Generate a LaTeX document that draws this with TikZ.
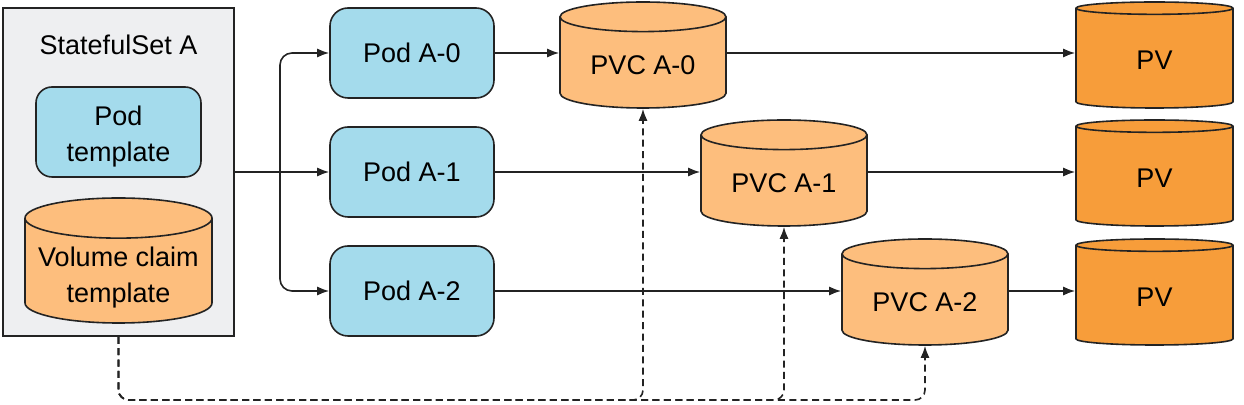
\documentclass[tikz,border=0pt]{standalone}
\usepackage{fontspec}
\setmainfont{Liberation Sans}
\usepackage{tikz}
\usetikzlibrary{shapes.geometric}
\usetikzlibrary{arrows.meta}
\definecolor{edge}{RGB}{35,35,35}
\definecolor{setgray}{RGB}{238,239,241}
\definecolor{podblue}{RGB}{164,219,236}
\definecolor{claimorange}{RGB}{253,190,125}
\definecolor{volorange}{RGB}{247,157,58}
\begin{document}
\begin{tikzpicture}[x=0.5pt, y=-0.5pt, font=\fontsize{13.5}{18}\selectfont,
    set/.style={draw=edge, fill=setgray, line width=0.8pt, minimum width=115.5pt, minimum height=164pt},
    pod/.style={draw=edge, fill=podblue, line width=0.8pt, rounded corners=9pt, minimum width=82pt, minimum height=45pt, align=center},
    drum/.style={draw=edge, line width=0.8pt, cylinder, shape border rotate=90, aspect=0.25, align=center, anchor=shape center},
    claim/.style={drum, fill=claimorange, minimum width=83pt, minimum height=53pt},
    volume/.style={drum, fill=volorange, minimum width=78.5pt, minimum height=53pt},
    link/.style={-{Latex[length=6pt,width=4.5pt]}, line width=0.8pt, draw=edge},
    bind/.style={link, dash pattern=on 3.5pt off 2.2pt, rounded corners=5pt}]
		% the statefulset and its templates
		\useasboundingbox (0,0) rectangle (1244,405);
		\node[set] (sts) at (118.5,172) {};
		\node (title) at (118.5,45) {StatefulSet A};
		\node[pod, minimum width=82.5pt, rounded corners=8pt, text height=32pt] (podtpl) at (118.5,132) {Pod\\template};
		\node[claim, minimum width=93.5pt, minimum height=62pt, inner sep=0pt, text height=32pt, text depth=0pt] (vct) at (118.5,260.5) {Volume claim\\template};
		% the pods, claims and volumes
		\node[pod] (pod0) at (412,53) {Pod A-0};
		\node[pod] (pod1) at (412,172) {Pod A-1};
		\node[pod] (pod2) at (412,291) {Pod A-2};
		\node[claim] (pvc0) at (643,55) {PVC A-0};
		\node[claim] (pvc1) at (784,173) {PVC A-1};
		\node[claim] (pvc2) at (925,292) {PVC A-2};
		\node[volume] (pv0) at (1154.5,55) {PV};
		\node[volume] (pv1) at (1154.5,173) {PV};
		\node[volume] (pv2) at (1154.5,292) {PV};
		% the arrows
		\coordinate (split) at (280,172);
		\coordinate (bus) at (118.5,400);
		\draw[link] (sts.east) -- (pod1.west);
		\draw[link, rounded corners=6pt] (split) |- (pod0.west);
		\draw[link, rounded corners=6pt] (split) |- (pod2.west);
		\foreach \i in {0,1,2} {
			\draw[link] (pod\i.east) -- (pod\i.east -| pvc\i.west);
			\draw[link] (pvc\i.east |- pod\i.east) -- (pv\i.west |- pod\i.east);
			\draw[bind] (sts.south) -- (bus) -- (bus -| pvc\i.south) -- (pvc\i.south);
		}
	\end{tikzpicture}
\end{document}
